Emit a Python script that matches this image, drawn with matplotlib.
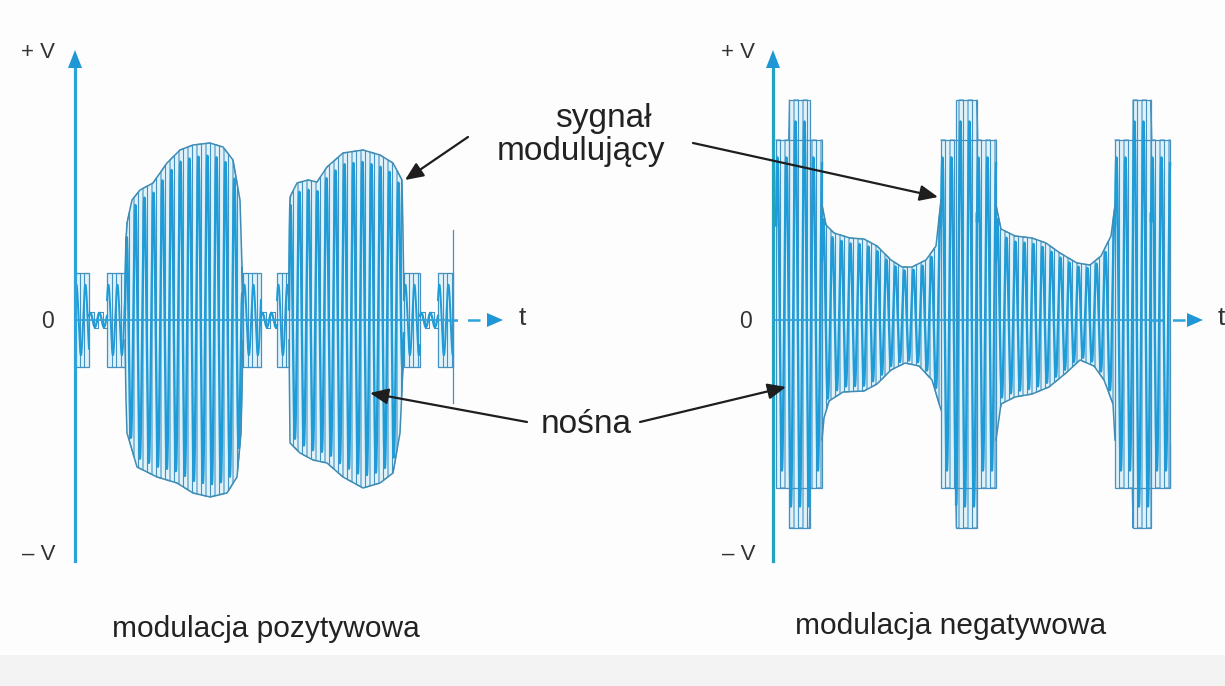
import numpy as np
import matplotlib
matplotlib.use("Agg")
import matplotlib.pyplot as plt
from matplotlib.patches import Polygon, Rectangle

plt.rcParams['font.family'] = ['Liberation Sans', 'DejaVu Sans']

# ---------------- data ----------------
# x = horizontal position on the picture's time axis, v = level above the t axis
# Left panel: positive modulation
L_BURST1_XU = [125, 126, 127, 132, 140, 153, 167, 180, 193, 210, 223, 233, 240, 242, 243]
L_BURST1_VU = [20, 80, 97, 120, 130, 137, 157, 170, 175, 177, 173, 160, 120, 53, 20]
L_BURST1_XL = [125, 126, 127, 137, 157, 177, 193, 210, 227, 237, 241, 242.5, 243]
L_BURST1_VL = [-20, -80, -113, -147, -157, -163, -173, -177, -173, -157, -113, -47, -20]

L_BURST2_XU = [289, 289.5, 290, 297, 308, 317, 327, 343, 363, 380, 393, 402, 403, 403.5, 404]
L_BURST2_VU = [20, 90, 123, 137, 140, 138, 153, 167, 170, 165, 157, 140, 87, 53, 20]
L_BURST2_XL = [289, 290, 300, 313, 327, 343, 363, 380, 393, 400, 403, 404]
L_BURST2_VL = [-20, -123, -133, -140, -143, -157, -168, -163, -153, -113, -47, -20]

L_PULSE_START = [75, 107, 243, 277, 404, 438]
L_PULSE_END = [89, 125, 261, 289, 420, 453]
L_PULSE_LEVEL = 47
L_RIPPLE_START = [89, 261, 420]
L_RIPPLE_END = [107, 277, 438]
L_RIPPLE_LEVEL = 8
L_TAIL_X = 453
L_TAIL_V = [90, -83]

# Right panel: negative modulation
R_SYNC_START = [776, 941, 1115]
R_SYNC_END = [822, 996, 1170]
R_SYNC_TOP, R_SYNC_BOT = 180, -168
R_PEAK_START = [789, 956, 1133]
R_PEAK_END = [810, 977, 1151]
R_PEAK_TOP, R_PEAK_BOT = 220, -208

R_SECA_XU = [822, 826, 834, 850, 864, 877, 891, 902, 912, 926, 936, 941]
R_SECA_VU = [115, 95, 87, 82, 81, 74, 60, 53, 53, 60, 74, 120]
R_SECA_XL = [822, 824, 829, 843, 864, 877, 891, 905, 919, 932, 941]
R_SECA_VL = [-120, -98, -81, -72, -71, -64, -50, -43, -46, -60, -90]

R_SECB_XU = [996, 1001, 1015, 1032, 1046, 1060, 1077, 1090, 1101, 1111, 1115]
R_SECB_VU = [115, 91, 84, 82, 77, 67, 57, 55, 64, 84, 115]
R_SECB_XL = [996, 1001, 1015, 1032, 1049, 1066, 1080, 1094, 1104, 1113, 1115]
R_SECB_VL = [-120, -84, -77, -74, -67, -53, -40, -46, -60, -84, -120]
R_TAIL_X = 1170
R_TAIL_V = [-125, -167]

# ---------------- style ----------------
THIN = '#4592c2'
THICK = '#1e9cd8'
FILL = '#dff2fa'
OUTLINE = '#3f8db5'
AXIS = '#2ea3db'
TXT = '#333333'
HALF = 4.5

fig = plt.figure(figsize=(12.25, 6.86), dpi=100, facecolor='#fdfdfd')
ax = fig.add_axes([0, 0, 1, 1])
ax.set_xlim(0, 1225)
ax.set_ylim(320 - 686, 320)
ax.axis('off')
ax.set_facecolor('#fdfdfd')

# bottom grey strip
ax.add_patch(Rectangle((0, 320 - 686), 1225, 686 - 655, color='#f3f3f3', zorder=0, lw=0))


def carrier(x0, x1, top_fn, bot_fn, thick_scale=0.93, lw_thick=1.7, fill=True):
    edges = np.arange(x0, x1 + 1e-6, HALF)
    if edges[-1] < x1 - 0.5:
        edges = np.append(edges, x1)
    else:
        edges[-1] = x1
    px, py = [], []
    for i in range(len(edges) - 1):
        xm = np.linspace(edges[i], edges[i + 1], 6)
        lev = top_fn(xm) if i % 2 == 0 else bot_fn(xm)
        px.extend(xm)
        py.extend(lev)
    xx = np.linspace(x0, x1, int((x1 - x0) * 10) + 2)
    t, b = top_fn(xx), bot_fn(xx)
    if fill:
        ax.fill_between(xx, b, t, color=FILL, lw=0, zorder=1)
    ax.plot(px, py, color=THIN, lw=0.8, zorder=2)
    mid = (t + b) / 2
    amp = (t - b) / 2
    yy = mid + thick_scale * amp * np.sin(2 * np.pi * (xx - x0) / (2 * HALF) + 0.6)
    ax.plot(xx, yy, color=THICK, lw=lw_thick, zorder=3)


def const(v):
    return lambda x: np.full_like(np.asarray(x, dtype=float), v)


def interp(xp, vp):
    return lambda x: np.interp(x, xp, vp)


# ---- axes ----
def vaxis(x, color):
    ax.plot([x, x], [-241, 254], color=color, lw=2.3, zorder=4)
    ax.add_patch(Polygon([[x - 7, 252], [x + 7, 252], [x, 270]], closed=True,
                         color='#1f97d6', lw=0, zorder=5))


def haxis(x0, xd, xe):
    ax.plot([x0, xd], [0, 0], color=AXIS, lw=1.3, zorder=4)
    ax.plot([xd, xe], [0, 0], color=AXIS, lw=1.8, dashes=(5, 4), zorder=4)
    ax.add_patch(Polygon([[xe, 7], [xe, -7], [xe + 16, 0]], closed=True,
                         color='#1f97d6', lw=0, zorder=5))


vaxis(75, AXIS)
vaxis(773, '#22a3c0')
haxis(75, 445, 487)
haxis(773, 1150, 1187)

# ---- left panel ----
for s, e in zip(L_PULSE_START, L_PULSE_END):
    carrier(s, e, const(L_PULSE_LEVEL), const(-L_PULSE_LEVEL), thick_scale=0.75, lw_thick=1.4)
    ax.add_patch(Rectangle((s, -L_PULSE_LEVEL), e - s, 2 * L_PULSE_LEVEL, fill=False,
                           ec=THIN, lw=0.9, zorder=2))
for s, e in zip(L_RIPPLE_START, L_RIPPLE_END):
    carrier(s, e, const(L_RIPPLE_LEVEL), const(-L_RIPPLE_LEVEL), thick_scale=0.9,
            lw_thick=1.6, fill=False)
ax.plot([L_TAIL_X, L_TAIL_X], L_TAIL_V, color=THIN, lw=0.9, zorder=2)

for xu, vu, xl, vl in [(L_BURST1_XU, L_BURST1_VU, L_BURST1_XL, L_BURST1_VL),
                       (L_BURST2_XU, L_BURST2_VU, L_BURST2_XL, L_BURST2_VL)]:
    carrier(min(xu[0], xl[0]), max(xu[-1], xl[-1]), interp(xu, vu), interp(xl, vl))
    ax.plot(xu, vu, color=OUTLINE, lw=1.1, zorder=4)
    ax.plot(xl, vl, color=OUTLINE, lw=1.1, zorder=4)

# ---- right panel ----
for s, e, ps, pe in zip(R_SYNC_START, R_SYNC_END, R_PEAK_START, R_PEAK_END):
    top = (lambda ps, pe: (lambda x: np.where((np.asarray(x) >= ps) & (np.asarray(x) <= pe),
                                              R_PEAK_TOP, R_SYNC_TOP)))(ps, pe)
    bot = (lambda ps, pe: (lambda x: np.where((np.asarray(x) >= ps) & (np.asarray(x) <= pe),
                                              R_PEAK_BOT, R_SYNC_BOT)))(ps, pe)
    carrier(s, e, top, bot, thick_scale=0.9)
    ax.add_patch(Rectangle((s, R_SYNC_BOT), e - s, R_SYNC_TOP - R_SYNC_BOT, fill=False,
                           ec=THIN, lw=0.9, zorder=2))
    ax.add_patch(Rectangle((ps, R_PEAK_BOT), pe - ps, R_PEAK_TOP - R_PEAK_BOT, fill=False,
                           ec=THIN, lw=0.9, zorder=2))

for xu, vu, xl, vl in [(R_SECA_XU, R_SECA_VU, R_SECA_XL, R_SECA_VL),
                       (R_SECB_XU, R_SECB_VU, R_SECB_XL, R_SECB_VL)]:
    carrier(min(xu[0], xl[0]), max(xu[-1], xl[-1]), interp(xu, vu), interp(xl, vl))
    ax.plot(xu, vu, color=OUTLINE, lw=1.1, zorder=4)
    ax.plot(xl, vl, color=OUTLINE, lw=1.1, zorder=4)
ax.plot([R_TAIL_X, R_TAIL_X], R_TAIL_V, color=THIN, lw=0.9, zorder=2)

# ---- axis labels ----
for xr in (55, 755):
    ax.text(xr, 320 - 53, '+ V', ha='right', va='center', fontsize=16, color=TXT)
    ax.text(xr, 320 - 555, '– V', ha='right', va='center', fontsize=16, color=TXT)
ax.text(48, -2, '0', ha='center', va='center', fontsize=16.5, color=TXT)
ax.text(746, -2, '0', ha='center', va='center', fontsize=16.5, color=TXT)
ax.text(522, 2, 't', ha='center', va='center', fontsize=19, color=TXT)
ax.text(1218, 2, 't', ha='left', va='center', fontsize=19, color=TXT)

# ---- annotations ----
ax.text(603, 320 - 127, 'sygnał', ha='center', va='baseline', fontsize=24, color='#222222')
ax.text(581, 320 - 160, 'modulujący', ha='center', va='baseline', fontsize=24, color='#222222')
ax.text(586, 320 - 433, 'nośna', ha='center', va='baseline', fontsize=24, color='#222222')

arrow_kw = dict(arrowstyle='-|>,head_length=0.55,head_width=0.24', color='#1e1e1e',
                lw=1.6, mutation_scale=20, shrinkA=0, shrinkB=0)
for (tx, ty), (hx, hy) in [((468, 137), (405, 180)), ((693, 143), (938, 197)),
                           ((527, 422), (370, 393)), ((640, 422), (786, 387))]:
    ax.annotate('', xy=(hx, 320 - hy), xytext=(tx, 320 - ty), arrowprops=arrow_kw, zorder=6)

ax.text(112, 320 - 637, 'modulacja pozytywowa', ha='left', va='baseline', fontsize=21.5, color='#222222')
ax.text(795, 320 - 634, 'modulacja negatywowa', ha='left', va='baseline', fontsize=21.5, color='#222222')

fig.savefig('out.png', dpi=100, facecolor=fig.get_facecolor())
